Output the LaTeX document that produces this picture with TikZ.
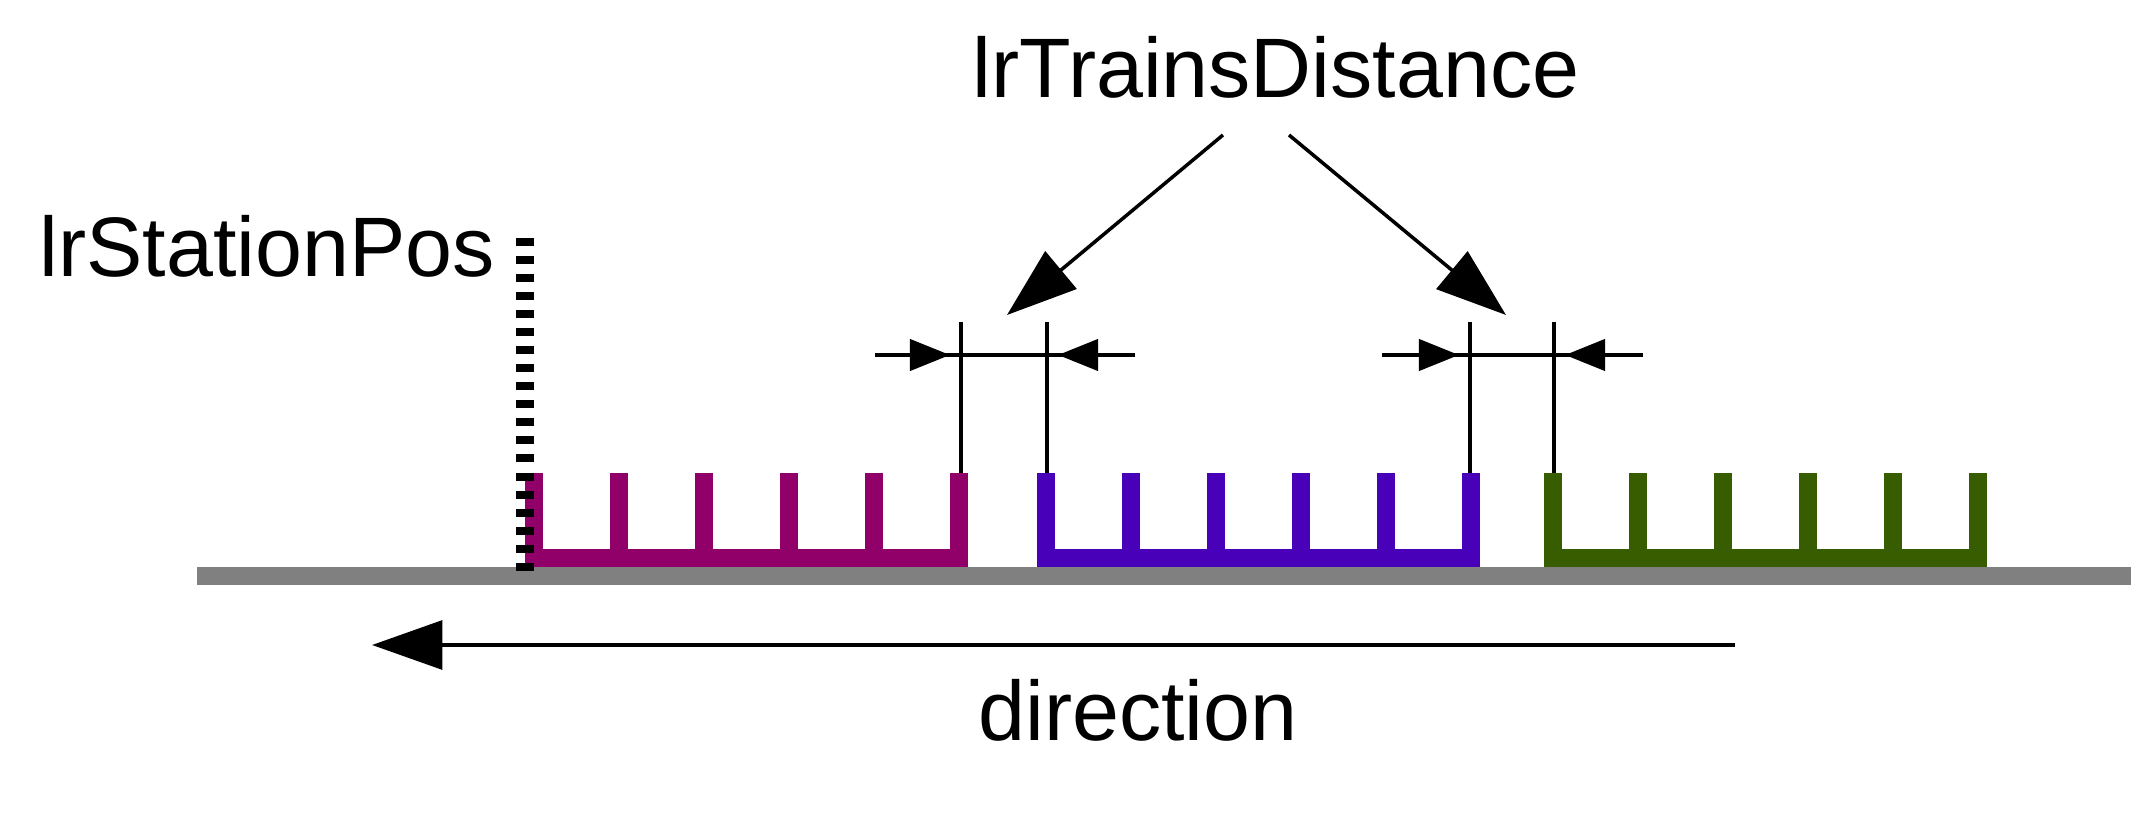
\documentclass[tikz,border=0pt]{standalone}
\usepackage{fontspec}
\setmainfont{Liberation Sans}
\usetikzlibrary{arrows.meta}
\definecolor{trainA}{RGB}{145,0,104}
\definecolor{trainB}{RGB}{72,0,184}
\definecolor{trainC}{RGB}{56,92,0}
\begin{document}
\begin{tikzpicture}[x=0.01cm, y=-0.01cm,
		train/.style={line width=5.12pt, line join=miter},
		dimline/.style={line width=1.3pt},
		bigtip/.style={-{Triangle[length=20pt,width=13.8pt]}, line width=1pt},
		smalltip/.style={-{Triangle[length=11.4pt,width=8.8pt]}, line width=1.3pt},
		lbl/.style={font=\fontsize{24}{28}\selectfont, inner sep=0pt, anchor=base}]
			\useasboundingbox (0,0) rectangle (2154,816);
			\draw[gray, line width=5.12pt] (197,576) -- (2131,576);
			\foreach \x/\c in {534/trainA, 1046/trainB, 1553/trainC} {
				\draw[train, \c] (\x,473) -- (\x,558) -- (\x+425,558) -- (\x+425,473);
				\foreach \i in {1,...,4}
					\draw[train, \c] (\x+85*\i,473) -- (\x+85*\i,558);
			}
			\draw[line width=5.12pt, dash pattern=on 2.28pt off 2.85pt] (525,238) -- (525,572);
			\draw[dimline] (961,322) -- (961,473);
			\draw[dimline] (1047,322) -- (1047,473);
			\draw[dimline] (1470,322) -- (1470,473);
			\draw[dimline] (1554,322) -- (1554,473);
			\draw[dimline] (875,355) -- (1135,355);
			\draw[dimline] (1382,355) -- (1643,355);
			\draw[smalltip] (875,355) -- (950,355);
			\draw[smalltip] (1135,355) -- (1058,355);
			\draw[smalltip] (1382,355) -- (1459,355);
			\draw[smalltip] (1643,355) -- (1565,355);
			\node[lbl] (dist) at (1276,98) {lrTrainsDistance};
			\node[lbl] (station) at (267,277) {lrStationPos};
			\node[lbl] (dir) at (1138,741) {direction};
			\coordinate (dL) at (1223,135);
			\coordinate (dR) at (1289,135);
			\coordinate (gapA) at (1007,315);
			\coordinate (gapB) at (1506,315);
			\draw[bigtip] (dL) -- (gapA);
			\draw[bigtip] (dR) -- (gapB);
			\coordinate (dirS) at (1735,645);
			\coordinate (dirE) at (372,645);
			\draw[bigtip, line width=1.3pt] (dirS) -- (dirE);
\end{tikzpicture}
\end{document}
